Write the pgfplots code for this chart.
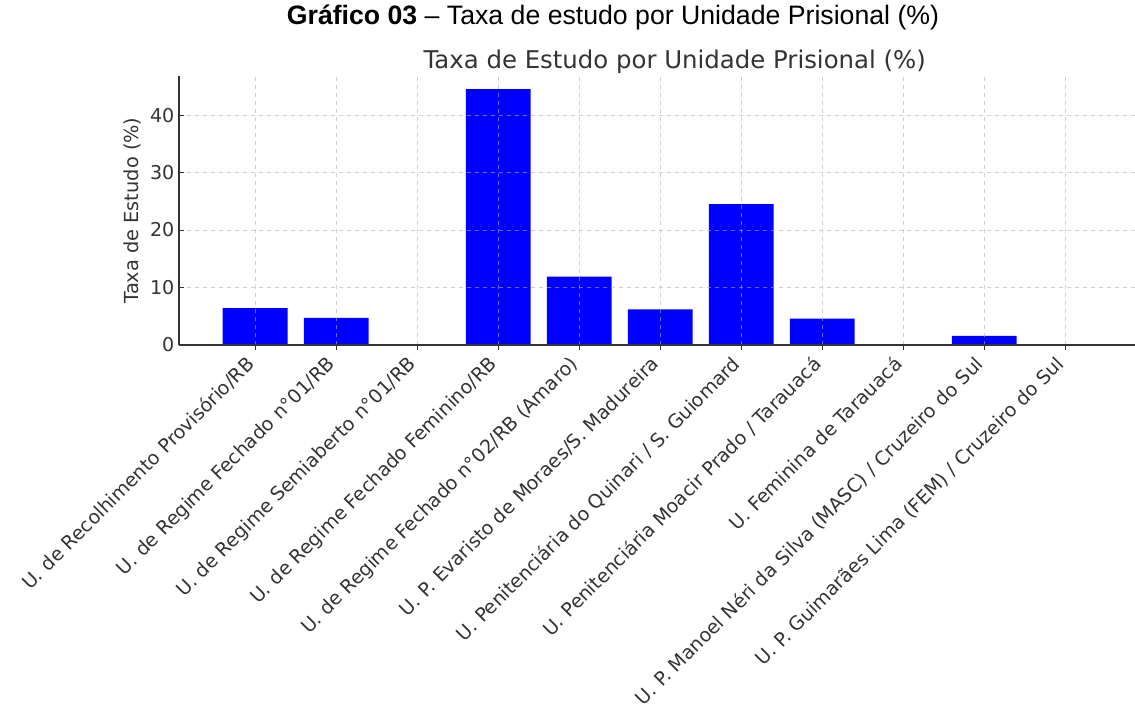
\documentclass[border=0pt]{standalone}
\usepackage{pgfplots}
\pgfplotsset{compat=1.18}
\usepackage{fontspec}
\setmainfont{DejaVu Sans}
\newfontfamily\arialfont{Liberation Sans}
\definecolor{txt}{HTML}{333333}
\definecolor{barblue}{HTML}{0000FF}
\definecolor{gridc}{HTML}{B0B0B0}

\pgfplotstableread{
x y
0 6.4
1 4.7
2 0
3 44.5
4 11.9
5 6.2
6 24.5
7 4.6
8 0
9 1.6
10 0
}\taxa

\begin{document}
\begin{tikzpicture}
% page = 1135 x 709 px, 1 px = 0.75 pt
\path[use as bounding box] (0,0) rectangle (851.25pt,531.75pt);
\begin{axis}[
  at={(134.25pt,273pt)}, anchor=south west,
  scale only axis, width=717pt, height=201.75pt,
  xmin=-0.94, xmax=10.86, ymin=0, ymax=46.8,
  axis x line*=bottom, axis y line*=left,
  axis line style={-, txt, line width=0.9pt},
  axis on top,
  grid=major,
  major grid style={gridc, dashed, line width=0.6pt, opacity=0.6},
  tick align=inside, major tick length=3.75pt,
  tick style={txt, line width=0.8pt},
  xtick={0,...,10},
  xticklabels={
    U. de Recolhimento Provisório/RB,
    U. de Regime Fechado n°01/RB,
    U. de Regime Semiaberto n°01/RB,
    U. de Regime Fechado Feminino/RB,
    U. de Regime Fechado n°02/RB (Amaro),
    U. P. Evaristo de Moraes/S. Madureira,
    U. Penitenciária do Quinari / S. Guiomard,
    U. Penitenciária Moacir Prado / Tarauacá,
    U. Feminina de Tarauacá,
    U. P. Manoel Néri da Silva (MASC) / Cruzeiro do Sul,
    U. P. Guimarães Lima (FEM) / Cruzeiro do Sul},
  ytick={0,10,20,30,40},
  /pgf/number format/assume math mode=true,
  tick label style={font=\fontsize{14.3}{17}\selectfont, text=txt},
  xticklabel style={xshift=-8pt, yshift=-2pt, rotate=45, anchor=north east, inner sep=1pt},
  ylabel={Taxa de Estudo (\%)},
  ylabel style={at={(axis description cs:-0.0492,0.5)}, anchor=center,
    font=\fontsize{14.5}{17}\selectfont, text=txt},
  ybar, bar width=0.8,
]
\addplot[fill=barblue, draw=none] table[x=x, y=y] {\taxa};
\end{axis}
\node[font=\arialfont\fontsize{20}{23}\selectfont, text=black] at (459.75pt,518.25pt)
  {\textbf{Gráfico 03} – Taxa de estudo por Unidade Prisional (\%)};
\node[font=\fontsize{18.3}{21}\selectfont, text=txt] at (506pt,485.25pt)
  {Taxa de Estudo por Unidade Prisional (\%)};
\end{tikzpicture}
\end{document}
